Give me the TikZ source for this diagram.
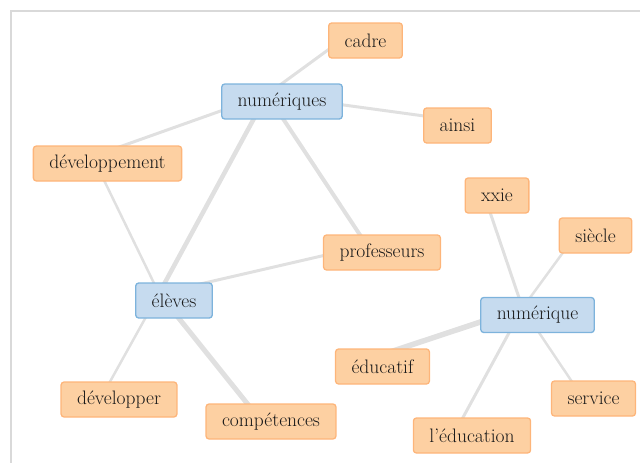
\documentclass[tikz,border=0pt]{standalone}
\usetikzlibrary{calc,backgrounds}

\definecolor{orfill}{HTML}{FDD0A2}
\definecolor{ordraw}{HTML}{FDB57A}
\definecolor{blfill}{HTML}{C6DBEF}
\definecolor{bldraw}{HTML}{7DB3DC}
\definecolor{linkgray}{HTML}{E0E0E0}
\definecolor{framegray}{HTML}{D9D9D9}
\definecolor{txt}{HTML}{1A1A1A}

\begin{document}
\begin{tikzpicture}[x=1pt,y=-1pt,
		word/.style={draw=ordraw,fill=orfill,line width=1.3pt,rounded corners=3pt,minimum height=35pt,inner xsep=16pt,text=txt,font=\fontsize{19.5}{22}\selectfont},
		key/.style={word,draw=bldraw,fill=blfill},
		link/.style={draw=linkgray,line cap=round}]
		\useasboundingbox (0,0) rectangle (640,463);
		%frame
		\draw[framegray,line width=1.5pt] (11,463) -- (11,11) -- (640,11);
		
		%key words
		\node[key] (num) at (282,101.5) {numériques};
		\node[key] (eleves) at (174,300.5) {élèves};
		\node[key] (numq) at (537.5,315) {numérique};
		
		%other words
		\node[word] (cadre) at (365.5,40.5) {cadre};
		\node[word] (ainsi) at (457.5,125.5) {ainsi};
		\node[word] (devmt) at (107.5,163.5) {développement};
		\node[word] (xxie) at (497,195.5) {xxie};
		\node[word] (siecle) at (595.5,235.5) {siècle};
		\node[word] (prof) at (382,252.5) {professeurs};
		\node[word] (educ) at (382.5,366.5) {éducatif};
		\node[word] (devr) at (119,399.5) {développer};
		\node[word] (service) at (593.5,398.5) {service};
		\node[word] (compet) at (271,421.5) {compétences};
		\node[word] (leduc) at (472,435.5) {l’éducation};
		
		%links:
		\begin{pgfonlayer}{background}
			\foreach \a/\b/\w in {num/cadre/3,num/ainsi/3,num/devmt/3,num/eleves/4.5,num/prof/4,
				devmt/eleves/2.5,eleves/prof/3,eleves/devr/2.5,eleves/compet/5,
				numq/xxie/3,numq/siecle/2.5,numq/educ/5.5,numq/leduc/3,numq/service/2.5}{
				\draw[link,line width=\w pt] ($(\a)+(-15,-7)$) -- ($(\b)+(-15,-7)$);
			}
		\end{pgfonlayer}
		
	\end{tikzpicture}
\end{document}
